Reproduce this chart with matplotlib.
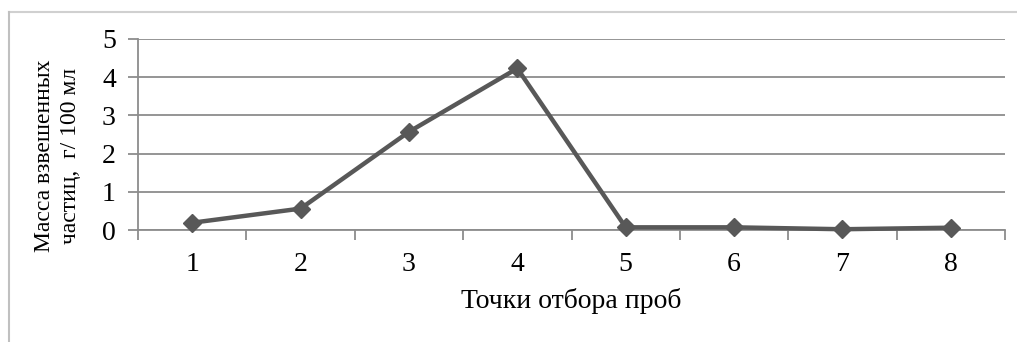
import matplotlib
matplotlib.use("Agg")
import matplotlib.pyplot as plt
from matplotlib.lines import Line2D

points = [1, 2, 3, 4, 5, 6, 7, 8]
mass = [0.19, 0.56, 2.57, 4.23, 0.07, 0.07, 0.02, 0.06]
yticks = [0, 1, 2, 3, 4, 5]
xlabel = "Точки отбора проб"
ylabel = "Масса взвешенных\nчастиц,  г/ 100 мл"

plt.rcParams['font.family'] = ['Liberation Serif', 'DejaVu Serif']

fig = plt.figure(figsize=(10.17, 3.42), dpi=100)
ax = fig.add_axes([138/1017, 1-230/342, (1005-138)/1017, (230-39)/342])

grid_c = '#8c8c8c'
ax.plot(points, mass, color='#585858', lw=3.2, marker='D', ms=9,
        markerfacecolor='#585858', markeredgecolor='#585858', zorder=3, clip_on=False)

ax.set_xlim(0.5, 8.5)
ax.set_ylim(0, 5)
ax.set_yticks(yticks)
ax.set_yticklabels([str(v) for v in yticks], fontsize=20)
ax.yaxis.grid(True, color=grid_c, lw=1.3)
ax.set_axisbelow(True)

ax.set_xticks([i + 0.5 for i in range(0, 9)])
ax.set_xticklabels([])
ax.set_xticks(points, minor=True)
ax.set_xticklabels([str(p) for p in points], minor=True, fontsize=20)
ax.tick_params(axis='x', which='major', length=7, width=1.3, color=grid_c, direction='out')
ax.tick_params(axis='x', which='minor', length=0, pad=16)
ax.tick_params(axis='y', length=7, width=1.3, color=grid_c, direction='out', pad=9)

for s in ['top', 'right']:
    ax.spines[s].set_visible(False)
for s in ['left', 'bottom']:
    ax.spines[s].set_color(grid_c)
    ax.spines[s].set_linewidth(1.3)

ax.set_xlabel(xlabel, fontsize=20, labelpad=8)
ax.set_ylabel(ylabel, fontsize=17, linespacing=1.3, va='center', ha='center')
ax.yaxis.set_label_coords(-0.093, 0.39)

fig.add_artist(Line2D([9/1017, 1.0], [1-12/342, 1-12/342], color='#d0d0d0', lw=1.5))
fig.add_artist(Line2D([9/1017, 9/1017], [0, 1-12/342], color='#c0c0c0', lw=1.5))

fig.savefig('out.png', dpi=100)
